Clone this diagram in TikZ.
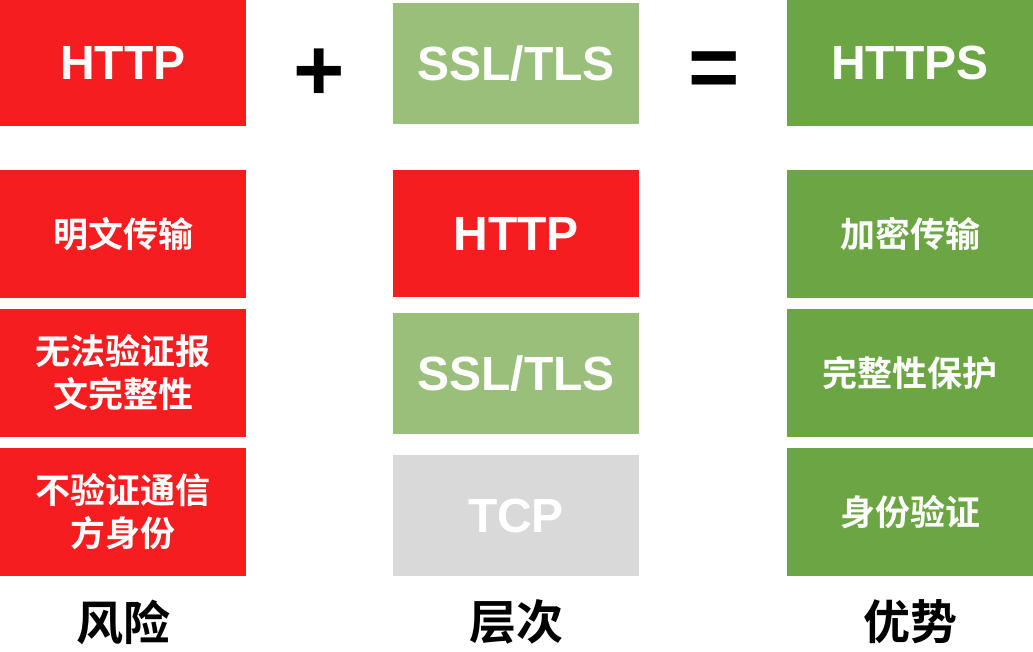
\documentclass[tikz,border=0pt]{standalone}
\usepackage{fontspec}
\setmainfont{Noto Sans CJK SC}[BoldFont=* Bold]
\newfontfamily\latinfont{Liberation Sans}
\usepackage{tikz}
\definecolor{riskred}{HTML}{F51D1F}
\definecolor{lightgreen}{HTML}{9ABF7A}
\definecolor{darkgreen}{HTML}{6CA544}
\definecolor{tcpgray}{HTML}{D9D9D9}
\tikzset{
  cell/.style={minimum width=246pt, inner sep=0pt, text=white, align=center,
    font=\bfseries\fontsize{35}{43}\selectfont},
  bigcell/.style={cell, font=\latinfont\bfseries\fontsize{48}{52}\selectfont},
  caption/.style={inner sep=0pt, font=\bfseries\fontsize{47}{50}\selectfont},
  operator/.style={inner sep=0pt, font=\latinfont\bfseries\fontsize{88}{88}\selectfont}
}

\begin{document}
\begin{tikzpicture}[x=1pt,y=-1pt]
    \useasboundingbox (0,0) rectangle (1033,651);

    % Risk column
    \node[bigcell, fill=riskred, minimum height=126pt] (http) at (123,63) {HTTP};
    \node[cell, fill=riskred, minimum height=128pt] (plain) at (123,234) {明文传输};
    \node[cell, fill=riskred, minimum height=128pt] (integ) at (123,373) {无法验证报\\文完整性};
    \node[cell, fill=riskred, minimum height=128pt] (ident) at (123,512) {不验证通信\\方身份};
    \node[caption] (risk) at (123,622) {风险};

    % Layer column
    \node[bigcell, fill=lightgreen, minimum height=121pt] (ssl) at (516,63.5) {SSL/TLS};
    \node[bigcell, fill=riskred, minimum height=127pt] (lhttp) at (516,233.5) {HTTP};
    \node[bigcell, fill=lightgreen, minimum height=121pt] (lssl) at (516,373.5) {SSL/TLS};
    \node[bigcell, fill=tcpgray, minimum height=121pt] (ltcp) at (516,515.5) {TCP};
    \node[caption] (layer) at (516,622) {层次};

    % Advantage column
    \node[bigcell, fill=darkgreen, minimum height=126pt] (https) at (910,63) {HTTPS};
    \node[cell, fill=darkgreen, minimum height=128pt] (crypt) at (910,234) {加密传输};
    \node[cell, fill=darkgreen, minimum height=128pt] (whole) at (910,373) {完整性保护};
    \node[cell, fill=darkgreen, minimum height=128pt] (auth) at (910,512) {身份验证};
    \node[caption] (gain) at (910,622) {优势};

    % Operators
    \node[operator] (plus) at (319,75) {+};
    \node[operator] (equal) at (714,75) {=};
\end{tikzpicture}
\end{document}
